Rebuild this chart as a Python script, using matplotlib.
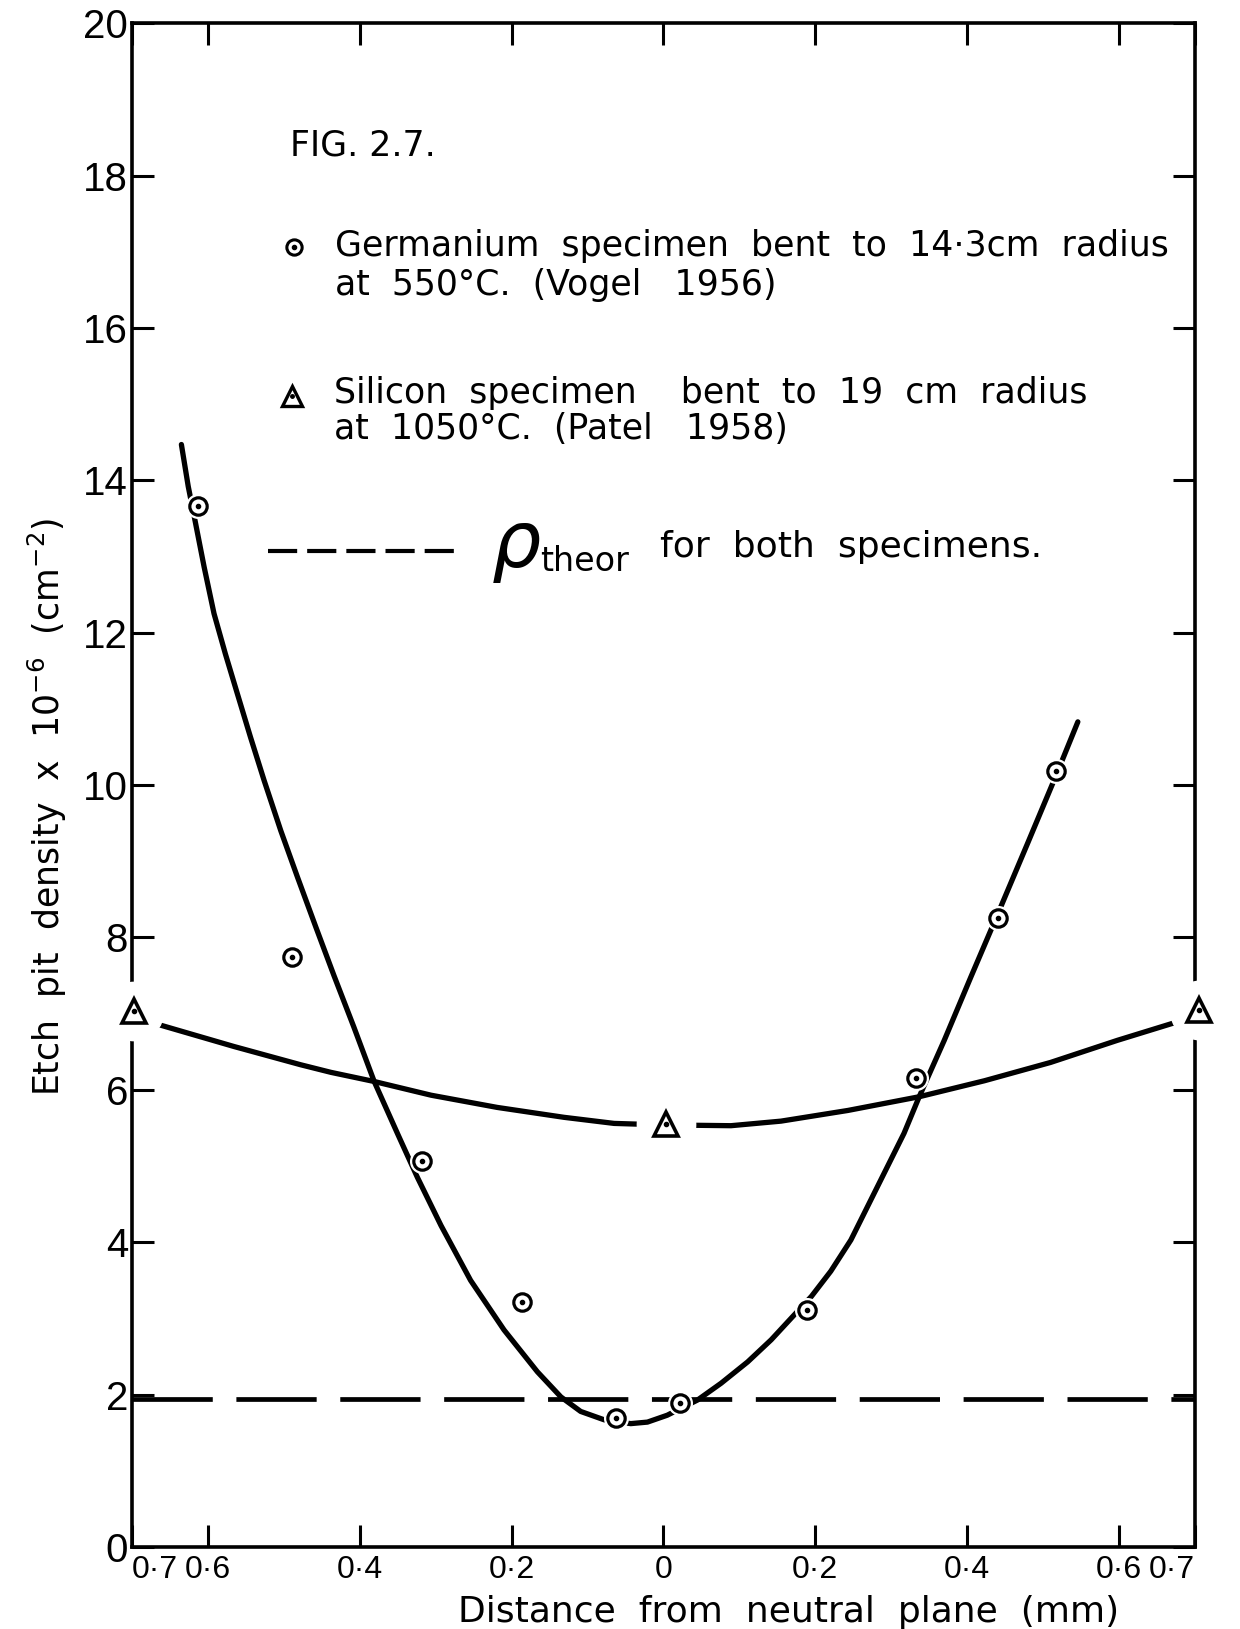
import numpy as np
import matplotlib as mpl
mpl.use('Agg')
import matplotlib.pyplot as plt

plt.rcParams['font.family'] = ['DejaVu Sans']

# Germanium (Vogel 1956)
ge_x = [-0.613, -0.489, -0.318, -0.186, -0.063, 0.022, 0.189, 0.333, 0.441, 0.517]
ge_y = [13.66, 7.75, 5.07, 3.22, 1.69, 1.89, 3.11, 6.16, 8.26, 10.19]

# hand drawn curve through the germanium points
ge_curve_x = [-0.635, -0.626, -0.617, -0.605, -0.592, -0.577, -0.561, -0.544, -0.526,
              -0.504, -0.482, -0.458, -0.434, -0.408, -0.381, -0.350, -0.324, -0.293,
              -0.254, -0.210, -0.166, -0.135, -0.109, -0.078, -0.043, -0.021, 0.005,
              0.045, 0.076, 0.111, 0.142, 0.168, 0.195, 0.2205, 0.247, 0.271, 0.295,
              0.317, 0.337, 0.370, 0.405, 0.441, 0.480, 0.517, 0.546]
ge_curve_y = [14.47, 13.92, 13.47, 12.86, 12.25, 11.72, 11.19, 10.63, 10.06,
              9.40, 8.79, 8.14, 7.50, 6.83, 6.11, 5.42, 4.85, 4.22,
              3.50, 2.85, 2.30, 1.97, 1.78, 1.67, 1.62, 1.64, 1.73,
              1.93, 2.15, 2.43, 2.72, 3.00, 3.29, 3.62, 4.03, 4.51, 4.99,
              5.43, 5.91, 6.65, 7.48, 8.32, 9.24, 10.12, 10.83]

# Silicon (Patel 1958)
si_x = [-0.697, 0.003, 0.705]
si_y = [7.04, 5.55, 7.05]

si_curve_x = [-0.673, -0.566, -0.478, -0.438, -0.381, -0.306, -0.219, -0.131, -0.065,
              0.0, 0.089, 0.155, 0.243, 0.337, 0.423, 0.510, 0.598, 0.686]
si_curve_y = [6.88, 6.57, 6.33, 6.23, 6.11, 5.93, 5.77, 5.64, 5.56,
              5.54, 5.53, 5.59, 5.73, 5.91, 6.12, 6.36, 6.65, 6.92]

rho_theor = 1.94

x_ticks = [-0.7, -0.6, -0.4, -0.2, 0, 0.2, 0.4, 0.6, 0.7]
x_labels = ['0·7', '0·6', '0·4', '0·2', '0', '0·2', '0·4', '0·6', '0·7']
y_ticks = list(range(0, 21, 2))

tick_font = ['Liberation Sans', 'DejaVu Sans']

fig = plt.figure(figsize=(12.4, 16.29), dpi=100)
ax = fig.add_axes([0.1065, 0.0503, 0.857, 0.9355])
ax.set_xlim(-0.7, 0.7)
ax.set_ylim(0, 20)

for s in ax.spines.values():
    s.set_linewidth(2.6)

ax.set_xticks(x_ticks)
ax.set_xticklabels(x_labels)
ax.set_yticks(y_ticks)
ax.tick_params(direction='in', length=16, width=2.2, top=True, right=True)
ax.tick_params(axis='x', pad=6, labelsize=23)
ax.tick_params(axis='y', pad=3, labelsize=29)
for lbl in ax.get_xticklabels() + ax.get_yticklabels():
    lbl.set_family(tick_font)
lab = ax.get_xticklabels()
lab[0].set_ha('left')
lab[-1].set_ha('right')

# courbes
ax.plot(ge_curve_x, ge_curve_y, color='black', lw=3.8, zorder=3,
        solid_capstyle='round', solid_joinstyle='round')
ax.plot(si_curve_x, si_curve_y, color='black', lw=3.8, zorder=3,
        solid_capstyle='round', solid_joinstyle='round')
ax.axhline(rho_theor, color='black', lw=3.4, dashes=(17, 5), zorder=2)

# points germanium (avec un blanc autour, comme sur le dessin)
ax.plot(ge_x, ge_y, ls='', marker='o', ms=17, mfc='white', mec='white', zorder=4)
ax.plot(ge_x, ge_y, ls='', marker='o', ms=12.5, mfc='white', mec='black', mew=2.3, zorder=5)
ax.plot(ge_x, ge_y, ls='', marker='o', ms=3, color='black', zorder=6)

# points silicium
ax.plot(si_x, si_y, ls='', marker='o', ms=42, mfc='white', mec='white', zorder=4, clip_on=False)
ax.plot(si_x, si_y, ls='', marker='^', ms=17, mfc='white', mec='black', mew=2.6, zorder=5, clip_on=False)
ax.plot(si_x, si_y, ls='', marker='o', ms=3, color='black', zorder=6, clip_on=False)

# legende dessinee a la main
ax.text(-0.492, 18.39, 'FIG. 2.7.', fontsize=25, va='center', ha='left')
ax.plot([-0.486], [17.06], ls='', marker='o', ms=11, mfc='white', mec='black', mew=2.2)
ax.plot([-0.486], [17.06], ls='', marker='o', ms=3, color='black')
ax.text(-0.432, 17.07, 'Germanium  specimen  bent  to  14·3cm  radius', fontsize=25, va='center', ha='left')
ax.text(-0.432, 16.56, 'at  550°C.  (Vogel   1956)', fontsize=25, va='center', ha='left')
ax.plot([-0.489], [15.11], ls='', marker='^', ms=14, mfc='white', mec='black', mew=2.4)
ax.plot([-0.489], [15.11], ls='', marker='o', ms=2.5, color='black')
ax.text(-0.434, 15.15, 'Silicon  specimen    bent  to  19  cm  radius', fontsize=25, va='center', ha='left')
ax.text(-0.434, 14.67, 'at  1050°C.  (Patel   1958)', fontsize=25, va='center', ha='left')
ax.plot([-0.521, -0.271], [13.07, 13.07], color='black', lw=3.0, dashes=(7, 2.4))
ax.text(-0.193, 13.15, 'ρ', fontsize=56, style='italic', va='center', ha='center')
ax.text(-0.162, 12.94, 'theor', fontsize=24, va='center', ha='left')
ax.text(-0.004, 13.12, 'for  both  specimens.', fontsize=26, va='center', ha='left')

ax.set_xlabel('Distance  from  neutral  plane  (mm)', fontsize=26)
ax.xaxis.set_label_coords(0.618, -0.0492)
ax.xaxis.label.set_va('baseline')
ax.set_ylabel(r'Etch  pit  density  x  10$^{-6}$  (cm$^{-2}$)', fontsize=25)
ax.yaxis.set_label_coords(-0.08, 0.486)
ax.yaxis.label.set_va('center')

fig.savefig('out.png', dpi=100)
